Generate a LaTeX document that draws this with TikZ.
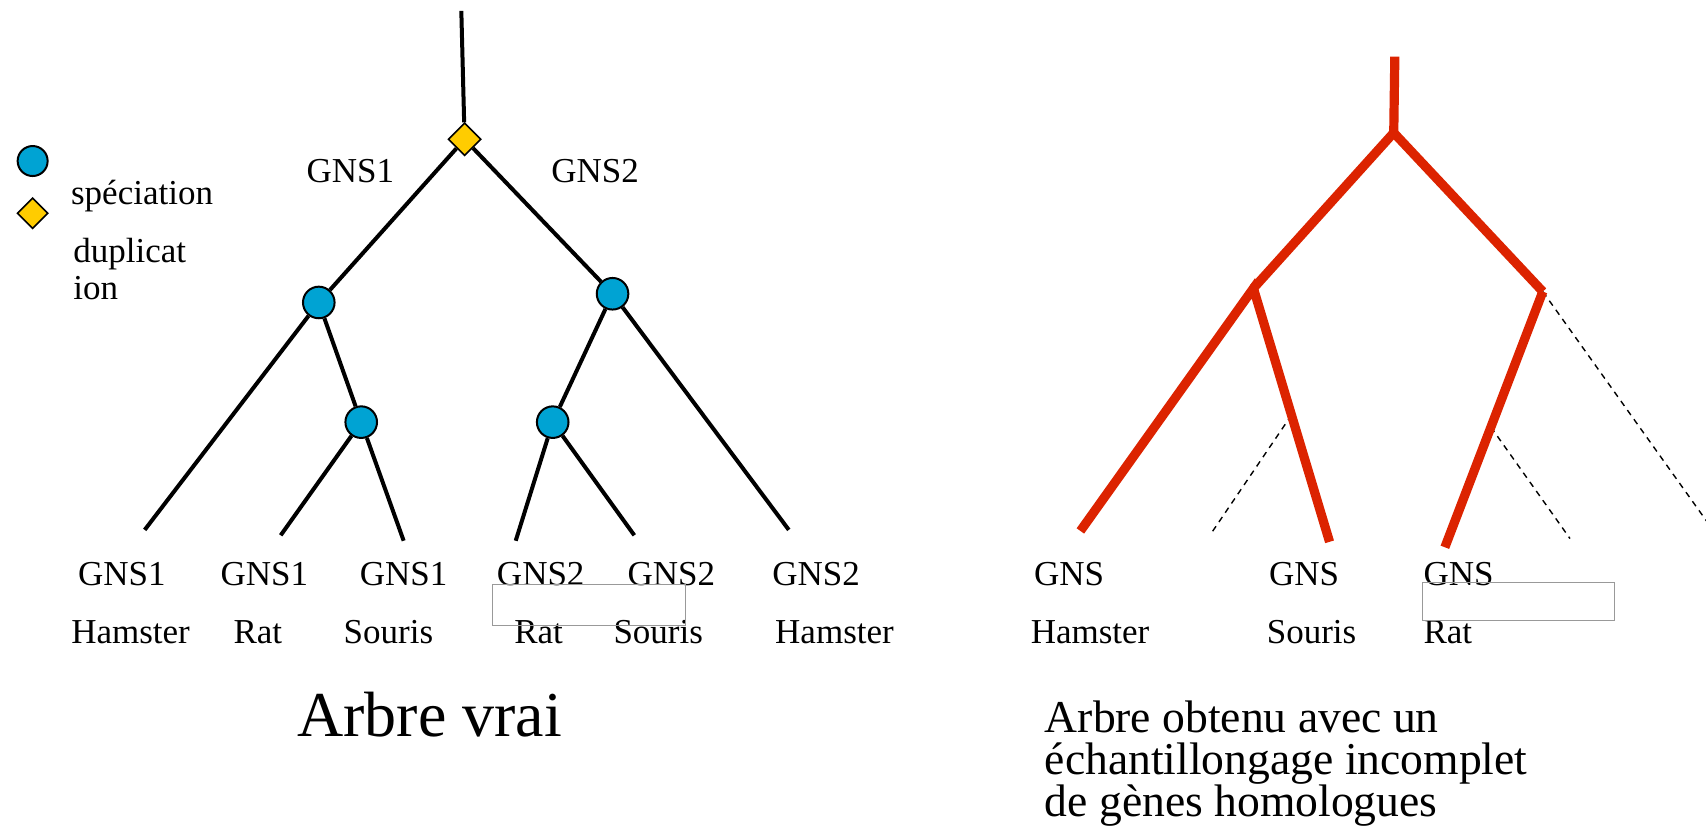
\documentclass[tikz,border=0pt]{standalone}
\usepackage{fontspec}
\setmainfont{Liberation Serif}
\usetikzlibrary{shapes.geometric,calc}
\definecolor{specblue}{HTML}{00A3D3}
\definecolor{dupyellow}{HTML}{FFCC00}
\definecolor{treered}{HTML}{DC2300}
\begin{document}
\begin{tikzpicture}[x=0.544pt,y=-0.544pt,
  spec/.style={circle,draw=black,line width=1pt,fill=specblue,minimum size=15.8pt,inner sep=0pt},
  dup/.style={diamond,draw=black,line width=0.8pt,fill=dupyellow,minimum size=16.5pt,inner sep=0pt},
  branch/.style={line width=2pt,black},
  redbranch/.style={line width=4.6pt,treered},
  lost/.style={line width=0.7pt,dash pattern=on 3pt off 2.6pt},
  lbl/.style={font=\fontsize{17.5}{18.5}\selectfont,inner sep=0pt,anchor=base},
  lblw/.style={lbl,anchor=base west},
  frame/.style={draw=black!40,line width=0.5pt}]
\useasboundingbox (0,0) rectangle (1568,765);

% legend
\node[spec,minimum size=15pt] (legspec) at (30,148) {};
\node[dup,minimum size=15.5pt] (legdup) at (30,196) {};
\node[lblw] (legspectxt) at (65,188) {spéciation};
\node[lblw,align=left,anchor=north west] (legduptxt) at (67,219) {duplicat\\ion};

% true gene tree
\coordinate (troot) at (424,10);
\node[dup] (d0) at (427,128) {};
\node[spec] (sA) at (293,278) {};
\node[spec] (sB) at (563,270) {};
\node[spec] (sA2) at (332,388) {};
\node[spec] (sB2) at (508,388) {};
\coordinate (lHam1) at (133,487);
\coordinate (lRat1) at (258,492);
\coordinate (lSou1) at (371,497);
\coordinate (lRat2) at (474,497);
\coordinate (lSou2) at (583,492);
\coordinate (lHam2) at (725,487);

\draw[branch] (troot) -- (d0);
\draw[branch] (d0) -- (sA);
\draw[branch] (d0) -- (sB);
\draw[branch] (sA) -- (lHam1);
\draw[branch] (sA) -- (sA2);
\draw[branch] (sA2) -- (lRat1);
\draw[branch] (sA2) -- (lSou1);
\draw[branch] (sB) -- (sB2);
\draw[branch] (sB) -- (lHam2);
\draw[branch] (sB2) -- (lRat2);
\draw[branch] (sB2) -- (lSou2);

\node[lbl] (pGNS1) at (322,168) {GNS1};
\node[lbl] (pGNS2) at (547,168) {GNS2};

\node[lbl] (g1) at (112,538) {GNS1};
\node[lbl] (g2) at (243,538) {GNS1};
\node[lbl] (g3) at (371,538) {GNS1};
\node[lbl] (g4) at (497,538) {GNS2};
\node[lbl] (g5) at (617,538) {GNS2};
\node[lbl] (g6) at (750,538) {GNS2};
\node[lbl] (n1) at (120,591) {Hamster};
\node[lbl] (n2) at (237,591) {Rat};
\node[lbl] (n3) at (357,591) {Souris};
\node[lbl] (n4) at (495,591) {Rat};
\node[lbl] (n5) at (605,591) {Souris};
\node[lbl] (n6) at (767,591) {Hamster};
\draw[frame] (453,537) rectangle (630,575);

\node[inner sep=0pt,anchor=base,font=\fontsize{32}{34}\selectfont] (captrue) at (395,677) {Arbre vrai};

% tree inferred from an incomplete sample
\coordinate (rtop) at (1282,52);
\coordinate (rroot) at (1281,122);
\coordinate (rA) at (1152,265);
\coordinate (rB) at (1418,268);
\coordinate (rHam) at (993,488);
\coordinate (rSou) at (1222,498);
\coordinate (rRat) at (1328,503);
\coordinate (xA) at ($(rA)!0.5!(rSou)$);
\coordinate (xB) at ($(rB)!0.53!(rRat)$);
\coordinate (eA) at (1112,492);
\coordinate (eB) at (1443,495);
\coordinate (eC) at (1570,481);

\draw[lost] (xA) -- (eA);
\draw[lost] (xB) -- (eB);
\draw[lost] (rB) -- (eC);
\draw[redbranch] (rtop) -- (rroot);
\draw[redbranch] (rA) -- (rroot) -- (rB);
\draw[redbranch] (rHam) -- (rA) -- (rSou);
\draw[redbranch] (rB) -- (rRat);

\node[lblw] (h1) at (950,538) {GNS};
\node[lblw] (h2) at (1166,538) {GNS};
\node[lblw] (h3) at (1308,538) {GNS};
\node[lblw] (m1) at (947,591) {Hamster};
\node[lblw] (m2) at (1164,591) {Souris};
\node[lblw] (m3) at (1308,591) {Rat};
\draw[frame] (1307,535) rectangle (1484,570);

\node[inner sep=0pt,anchor=north west,align=left,font=\fontsize{22.8}{20.9}\selectfont] (capinc) at (960,644)
  {Arbre obtenu avec un\\échantillongage incomplet\\de gènes homologues};
\end{tikzpicture}
\end{document}
